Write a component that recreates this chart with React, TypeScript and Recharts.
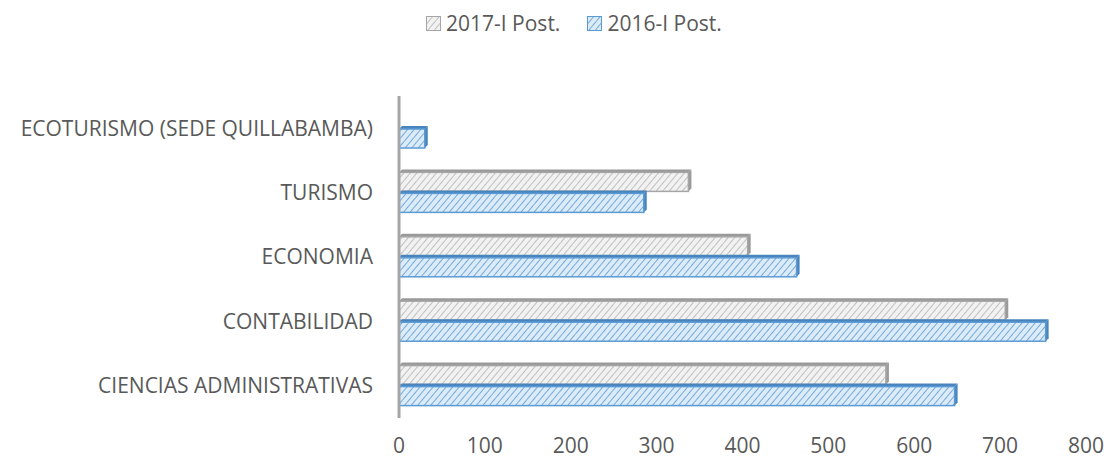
import React from 'react';
import { BarChart, Bar, XAxis, YAxis } from 'recharts';

const carreras = [
  'ECOTURISMO (SEDE QUILLABAMBA)',
  'TURISMO',
  'ECONOMIA',
  'CONTABILIDAD',
  'CIENCIAS ADMINISTRATIVAS',
];
const post2017 = [0, 337, 406, 706, 567];
const post2016 = [30, 285, 463, 753, 647];
const xTicks = [0, 100, 200, 300, 400, 500, 600, 700, 800];

const FONT = '"Open Sans", sans-serif';
const TEXT = '#595959';

const GRAY = { bg: '#f2f2f2', line: '#b4b4b4', border: '#a6a6a6', side: '#9a9a9a' };
const BLUE = { bg: '#dcebf8', line: '#5b9bd5', border: '#5b9bd5', side: '#4a84bd' };

const rows = carreras.map((name, i) => ({
  name,
  p2017: post2017[i],
  p2016: post2016[i],
}));

// diagonal hatch, used by the bars and the legend squares
const Hatch = ({ id, c }: { id: string; c: typeof GRAY }) => (
  <pattern id={id} width="5" height="5" patternUnits="userSpaceOnUse" patternTransform="rotate(40)">
    <rect width="5" height="5" fill={c.bg} />
    <line x1="0" y1="0" x2="0" y2="5" stroke={c.line} strokeWidth="1.6" />
  </pattern>
);

const bar3d = (c: typeof GRAY, pid: string) => (props: any) => {
  const { x, y, width, height } = props;
  if (!width || width <= 0) return <g />;
  const d = 3;
  return (
    <g>
      <polygon
        points={`${x},${y} ${x + d},${y - d} ${x + width + d},${y - d} ${x + width},${y}`}
        fill={c.side}
      />
      <polygon
        points={`${x + width},${y} ${x + width + d},${y - d} ${x + width + d},${y + height - d} ${x + width},${y + height}`}
        fill={c.side}
      />
      <rect x={x} y={y} width={width} height={height} fill={`url(#${pid})`} stroke={c.border} strokeWidth={1.5} />
    </g>
  );
};

const LegendItem = ({ label, c, pid }: { label: string; c: typeof GRAY; pid: string }) => (
  <span style={{ display: 'inline-flex', alignItems: 'center', marginRight: 27 }}>
    <svg width={15} height={15} style={{ marginRight: 5 }}>
      <defs>
        <Hatch id={pid + '-lg'} c={c} />
      </defs>
      <rect x={0.5} y={0.5} width={14} height={14} fill={`url(#${pid}-lg)`} stroke={c.border} />
    </svg>
    <span>{label}</span>
  </span>
);

export default function App() {
  return (
    <div style={{ position: 'absolute', left: 0, top: 0, width: 1108, height: 460, background: '#fff', fontFamily: FONT }}>
      <div
        style={{
          position: 'absolute',
          left: 426,
          top: 9,
          fontSize: 21,
          color: TEXT,
          display: 'flex',
          whiteSpace: 'nowrap',
        }}
      >
        <LegendItem label="2017-I Post." c={GRAY} pid="hg" />
        <LegendItem label="2016-I Post." c={BLUE} pid="hb" />
      </div>
      <BarChart
        width={1108}
        height={460}
        data={rows}
        layout="vertical"
        margin={{ top: 96, right: 22, bottom: 0, left: 0 }}
        barSize={19}
        barGap={2}
      >
        <defs>
          <Hatch id="hg" c={GRAY} />
          <Hatch id="hb" c={BLUE} />
        </defs>
        <XAxis
          type="number"
          domain={[0, 800]}
          ticks={xTicks}
          axisLine={false}
          tickLine={false}
          tickSize={0}
          tickMargin={20}
          height={42}
          tick={{ fontSize: 21, fill: TEXT, fontFamily: FONT }}
        />
        <YAxis
          type="category"
          dataKey="name"
          width={399}
          axisLine={{ stroke: '#a6a6a6', strokeWidth: 3 }}
          tickLine={false}
          tickSize={0}
          tickMargin={26}
          interval={0}
          tick={{ fontSize: 21, fill: TEXT, fontFamily: FONT }}
        />
        <Bar dataKey="p2017" name="2017-I Post." shape={bar3d(GRAY, 'hg')} isAnimationActive={false} />
        <Bar dataKey="p2016" name="2016-I Post." shape={bar3d(BLUE, 'hb')} isAnimationActive={false} />
      </BarChart>
    </div>
  );
}
